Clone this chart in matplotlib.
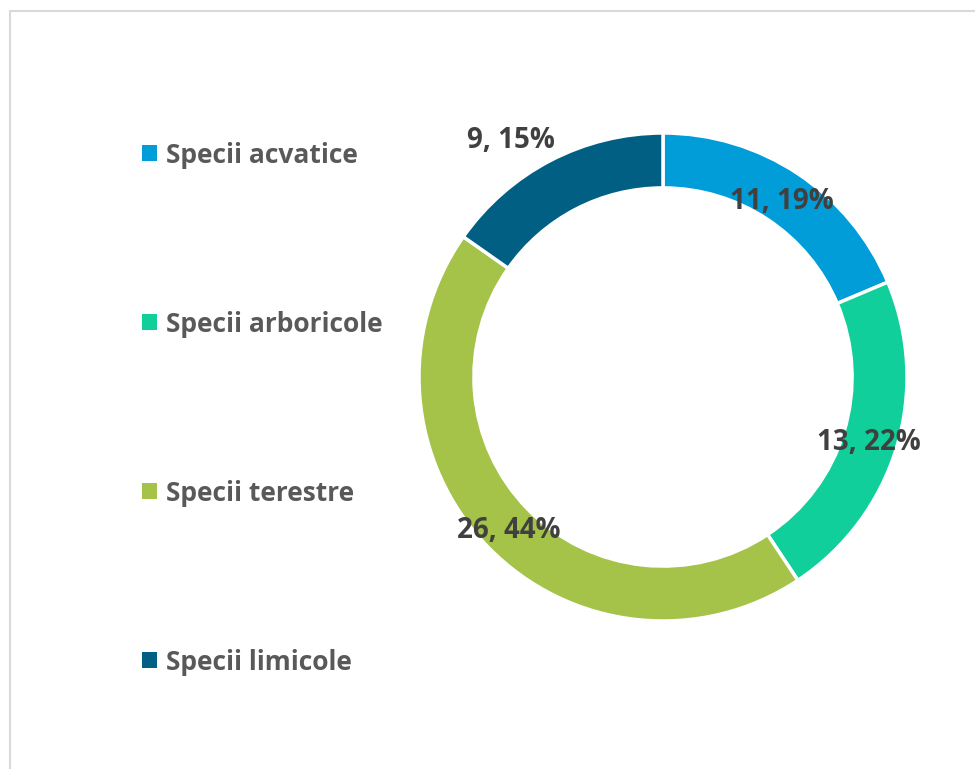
import numpy as np
import matplotlib.pyplot as plt
from matplotlib.patches import Patch, Rectangle

categories = ['Specii acvatice', 'Specii arboricole', 'Specii terestre', 'Specii limicole']
counts = [11, 13, 26, 9]
colors = ['#009DD9', '#10CF9B', '#A5C249', '#005F83']

W, H = 975, 769
fig = plt.figure(figsize=(W / 100, H / 100), dpi=100)
plt.rcParams['font.family'] = ['Open Sans', 'DejaVu Sans']

# light frame round the chart area (cut at right and bottom)
fig.patches.append(Rectangle((9.5 / W, -0.1), 1.2, (H - 10.5) / H + 0.1,
                             transform=fig.transFigure, fill=False,
                             edgecolor='#D9D9D9', linewidth=1.5))

# donut centred at (663, 377) px, radius 244 px
cx, cy, r = 663, 377, 244
ax = fig.add_axes([(cx - r) / W, (H - cy - r) / H, 2 * r / W, 2 * r / H])
wedges, _ = ax.pie(counts, colors=colors, startangle=90, counterclock=False,
                   radius=1, wedgeprops=dict(width=0.225, edgecolor='white', linewidth=2.5))
ax.set_xlim(-1, 1)
ax.set_ylim(-1, 1)
ax.set_aspect('equal')
ax.axis('off')

total = sum(counts)
label_r = [0.88, 0.88, 0.88, 1.165]
label_shift = [0, 0, 0, 5]
for w, n, lr, sh in zip(wedges, counts, label_r, label_shift):
    mid = np.deg2rad((w.theta1 + w.theta2) / 2 + sh)
    ax.text(lr * np.cos(mid), lr * np.sin(mid) - 0.015, f'{n}, {round(100 * n / total)}%',
            ha='center', va='center', fontsize=20, fontweight='bold', color='#404040')

handles = [Patch(facecolor=c, edgecolor='none') for c in colors]
fig.legend(handles, categories, loc='upper left', bbox_to_anchor=(118.5 / W, 1 - 118 / H),
           frameon=False, fontsize=19, labelcolor='#595959',
           handlelength=0.55, handleheight=0.55, handletextpad=0.36, labelspacing=5.38)
for t in fig.legends[0].get_texts():
    t.set_fontweight('bold')

fig.savefig('out.png', dpi=100)
